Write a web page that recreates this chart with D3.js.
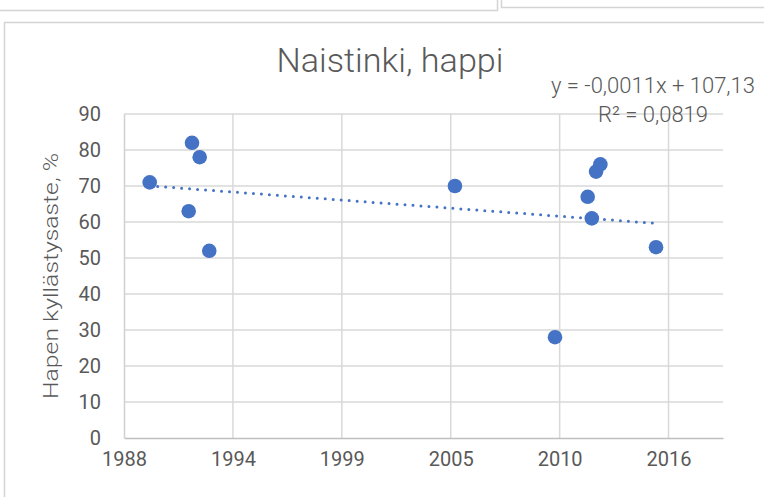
<!DOCTYPE html>
<html>
<head>
<meta charset="utf-8">
<script src="https://cdn.jsdelivr.net/npm/d3@7"></script>
<style>
  body { margin: 0; background: #fff; }
  text { font-family: Roboto, "Noto Sans", sans-serif; fill: #595959; }
</style>
</head>
<body>
<div id="chart"></div>
<script>
const width = 764
const height = 497

// data
const sampleDates = ['1989-12-17', '1991-12-03', '1992-02-02', '1992-06-22', '1992-12-15', '2005-04-22',
  '2010-05-04', '2011-12-25', '2012-03-10', '2012-05-27', '2012-08-14', '2015-06-02']
const oxygen = [71, 63, 82, 78, 52, 70, 28, 67, 61, 74, 76, 53]
const yTicks = [0, 10, 20, 30, 40, 50, 60, 70, 80, 90]
const xStart = '1988-09-01' // axis minimum, major unit 2000 days
const xStepDays = 2000
const xSteps = 5.5
const title = 'Naistinki, happi'
const yTitle = 'Hapen kyllästysaste, %'
const eqLines = ['y = -0,0011x + 107,13', 'R² = 0,0819']

const blue = '#4472C4'
const grid = '#d9d9d9'
const day = 864e5

const plot = { left: 124, right: 723, top: 114, bottom: 438 }

const parse = d3.utcParse('%Y-%m-%d')
const x0 = parse(xStart)
const xTicks = d3.range(0, xSteps, 1).map((k) => new Date(+x0 + k * xStepDays * day))

const xScale = d3.scaleUtc()
  .domain([x0, new Date(+x0 + xSteps * xStepDays * day)])
  .range([plot.left, plot.right])
const yScale = d3.scaleLinear().domain([0, 90]).range([plot.bottom, plot.top])

const points = sampleDates.map((d, i) => ({ date: parse(d), value: oxygen[i] }))

const svg = d3.select('#chart').append('svg')
  .attr('width', width)
  .attr('height', height)

svg.append('rect').attr('width', width).attr('height', height).attr('fill', '#fff')

// edges of neighbouring objects and the chart frame
const frame = svg.append('g').attr('fill', 'none').attr('stroke', '#d4d4d4').attr('stroke-width', 1.5)
frame.append('path').attr('d', 'M0,10.5H497.5V0')
frame.append('path').attr('d', 'M501.5,0V7.5H764')
frame.append('path').attr('d', 'M4.5,497V22.5H764')

// gridlines
svg.append('g')
  .selectAll('line')
  .data(yTicks.slice(1))
  .join('line')
  .attr('x1', plot.left).attr('x2', plot.right)
  .attr('y1', (d) => yScale(d)).attr('y2', (d) => yScale(d))
  .attr('stroke', grid).attr('stroke-width', 1.5)

svg.append('g')
  .selectAll('line')
  .data(xTicks.slice(1))
  .join('line')
  .attr('x1', (d) => xScale(d)).attr('x2', (d) => xScale(d))
  .attr('y1', plot.top).attr('y2', plot.bottom)
  .attr('stroke', grid).attr('stroke-width', 1.5)

// axes
const xAxis = svg.append('g')
  .attr('transform', `translate(0,${plot.bottom})`)
  .call(d3.axisBottom(xScale).tickValues(xTicks).tickFormat(d3.utcFormat('%Y')).tickSize(0).tickPadding(14))
xAxis.select('.domain').attr('stroke', '#bfbfbf').attr('stroke-width', 1.5)
xAxis.selectAll('text').attr('font-size', 20).attr('fill', '#595959')
  .attr('font-family', 'Roboto, sans-serif')

const yAxis = svg.append('g')
  .attr('transform', `translate(${plot.left},0)`)
  .call(d3.axisLeft(yScale).tickValues(yTicks).tickSize(0).tickPadding(23))
yAxis.select('.domain').attr('stroke', '#d0d0d0').attr('stroke-width', 1.5)
yAxis.selectAll('text').attr('font-size', 20).attr('fill', '#595959')
  .attr('font-family', 'Roboto, sans-serif')

// linear trendline (least squares)
const xs = points.map((d) => +d.date / day)
const ys = points.map((d) => d.value)
const mx = d3.mean(xs)
const my = d3.mean(ys)
const slope = d3.sum(xs, (v, i) => (v - mx) * (ys[i] - my)) / d3.sum(xs, (v) => (v - mx) ** 2)
const trend = d3.extent(points, (d) => d.date).map((d) => ({ date: d, value: my + slope * (+d / day - mx) }))

svg.append('path')
  .datum(trend)
  .attr('d', d3.line().x((d) => xScale(d.date)).y((d) => yScale(d.value)))
  .attr('fill', 'none')
  .attr('stroke', blue)
  .attr('stroke-width', 3)
  .attr('stroke-linecap', 'round')
  .attr('stroke-dasharray', '0 8')

// markers
svg.append('g')
  .selectAll('circle')
  .data(points)
  .join('circle')
  .attr('cx', (d) => xScale(d.date))
  .attr('cy', (d) => yScale(d.value))
  .attr('r', 7.3)
  .attr('fill', blue)

// texts
svg.append('text')
  .attr('x', 390).attr('y', 72)
  .attr('text-anchor', 'middle')
  .attr('font-size', 34).attr('font-weight', 300)
  .attr('textLength', 227).attr('lengthAdjust', 'spacingAndGlyphs')
  .text(title)

svg.append('text')
  .attr('transform', `translate(58,${(plot.top + plot.bottom) / 2}) rotate(-90)`)
  .attr('text-anchor', 'middle')
  .attr('font-size', 21).attr('font-weight', 300)
  .attr('textLength', 246).attr('lengthAdjust', 'spacingAndGlyphs')
  .text(yTitle)

svg.append('g')
  .selectAll('text')
  .data(eqLines)
  .join('text')
  .attr('x', 653)
  .attr('y', (d, i) => 93 + i * 29)
  .attr('text-anchor', 'middle')
  .attr('font-size', 22).attr('font-weight', 300)
  .text((d) => d)
</script>
</body>
</html>
